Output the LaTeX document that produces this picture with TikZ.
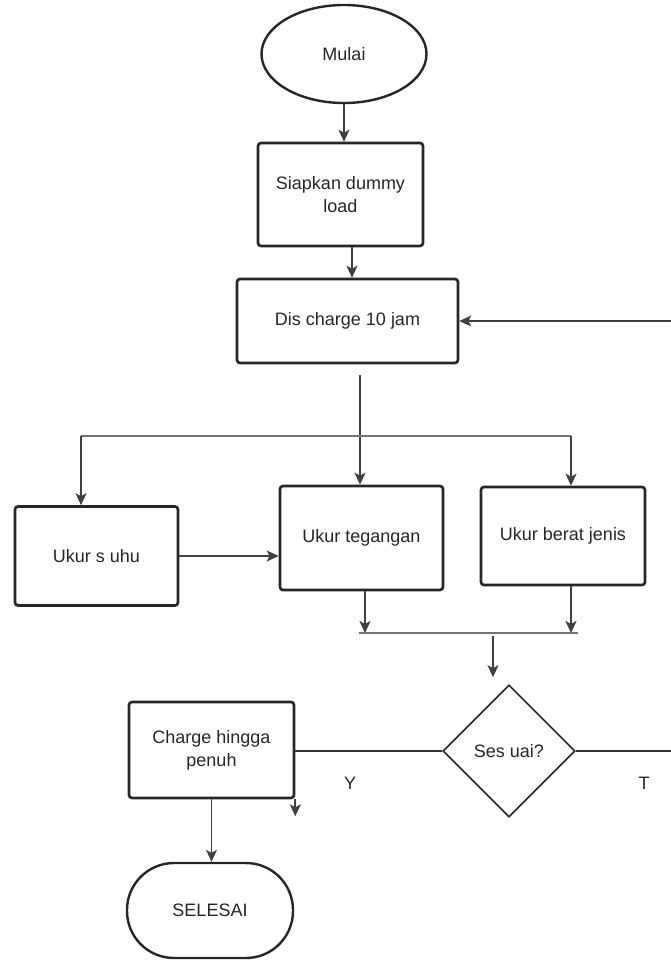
\documentclass[tikz,border=0pt]{standalone}
\usepackage{fontspec}
\setmainfont{Liberation Sans}
\usetikzlibrary{shapes.geometric,arrows.meta}

\tikzset{
  base/.style={font=\fontsize{18}{23}\selectfont, align=center, inner sep=0pt, text=black!85},
  procbox/.style={base, draw=black!85, line width=2.6pt, rounded corners=3pt},
  termell/.style={base, ellipse, draw=black!85, line width=2.4pt},
  termpill/.style={base, draw=black!85, line width=2.4pt, rounded corners=47pt},
  decision/.style={base, diamond, aspect=1, draw=black!85, line width=1.6pt},
  arr/.style={line width=1.8pt, draw=black!75, -{Stealth[length=12pt,width=11pt,inset=3pt]}},
  flow/.style={line width=1.8pt, draw=black!80},
  bus/.style={line width=2.2pt, draw=black!55},
  lbl/.style={font=\fontsize{18}{23}\selectfont, text=black!85, inner sep=0pt}
}

\begin{document}
\begin{tikzpicture}[x=1pt,y=-1pt]
  \useasboundingbox (0,0) rectangle (671,961);

  % nodes
  \node[termell, minimum width=165pt, minimum height=98pt] (mulai) at (344,54) {Mulai};
  \node[procbox, minimum width=165pt, minimum height=103pt] (siap) at (340.5,194.5) {Siapkan dummy\\load};
  \node[procbox, minimum width=221pt, minimum height=84pt] (dis) at (347.5,321) {Dis charge 10 jam};
  \node[procbox, minimum width=163pt, minimum height=99pt] (suhu) at (96.5,556) {Ukur s uhu};
  \node[procbox, minimum width=163pt, minimum height=104pt] (teg) at (361.5,538) {Ukur tegangan};
  \node[procbox, minimum width=164pt, minimum height=98pt] (berat) at (563,536) {Ukur berat jenis};
  \node[decision, minimum width=132pt, minimum height=132pt] (sesuai) at (509,751) {Ses uai?};
  \node[procbox, minimum width=165pt, minimum height=96pt] (charge) at (211.5,750) {Charge hingga\\penuh};
  \node[termpill, minimum width=166pt, minimum height=95pt] (selesai) at (210,910.5) {SELESAI};

  % helper points
  \coordinate (c1) at (352,0);
  \coordinate (c0) at (360,0);
  \coordinate (rin) at (671,321);
  \coordinate (bl) at (81,436);
  \coordinate (br) at (571,436);
  \coordinate (ml) at (359,633);
  \coordinate (mr) at (578,633);
  \coordinate (c2) at (365,0);
  \coordinate (mm) at (493,636);
  \coordinate (rout) at (671,751);

  % connectors
  \draw[arr] (mulai.south) -- (mulai.south |- siap.north);
  \draw[arr] (siap.south -| c1) -- (dis.north -| c1);
  \draw[arr] (rin) -- (dis.east);
  \draw[arr, shorten <=11pt] (dis.south -| c0) -- (teg.north -| c0);
  \draw[bus] (bl) -- (br);
  \draw[arr] (bl) -- (bl |- suhu.north);
  \draw[arr] (br) -- (br |- berat.north);
  \draw[arr] (suhu.east) -- (suhu.east -| teg.west);
  \draw[arr] (teg.south -| c2) -- (ml -| c2);
  \draw[arr] (berat.south -| br) -- (mr -| br);
  \draw[bus] (ml) -- (mr);
  \draw[arr, shorten >=7pt] (mm) -- (mm |- sesuai.north);
  \draw[flow] (sesuai.west) -- (sesuai.west -| charge.east);
  \draw[flow] (sesuai.east) -- (rout);
  \draw[arr] (charge.south east) -- ++(0,17);
  \draw[arr] (charge.south) -- (charge.south |- selesai.north);

  % branch labels
  \node[lbl] (ylab) at (350,783) {Y};
  \node[lbl] (tlab) at (644,783) {T};
\end{tikzpicture}
\end{document}
